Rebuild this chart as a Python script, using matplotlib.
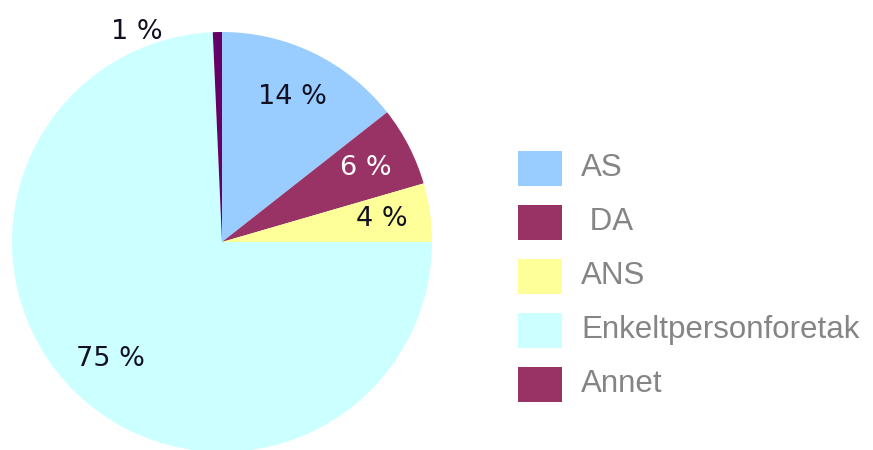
import matplotlib.pyplot as plt
import numpy as np
from matplotlib.patches import Rectangle

# shares as drawn, printed labels, legend names
names = ['AS', ' DA', 'ANS', 'Enkeltpersonforetak', 'Annet']
shares = [14.4, 6.1, 4.5, 74.3, 0.7]
pct_labels = ['14 %', '6 %', '4 %', '75 %', '1 %']
wedge_colors = ['#99ccff', '#993366', '#ffff99', '#ccffff', '#660066']
legend_colors = ['#99ccff', '#993366', '#ffff99', '#ccffff', '#993366']
text_colors = ['#111122', 'white', '#111122', '#111122', '#111122']

fig = plt.figure(figsize=(8.73, 4.5), dpi=100)
ax = fig.add_axes([0, 0, 1, 1])

cx, cy, r = 222, 208, 210
wedges, _ = ax.pie(shares, colors=wedge_colors, startangle=90, counterclock=False,
                   center=(cx, cy), radius=r, frame=True,
                   wedgeprops=dict(linewidth=0))
ax.set_xlim(0, 873)
ax.set_ylim(0, 450)
ax.set_aspect('equal')
ax.axis('off')

for w, lab, tc in zip(wedges, pct_labels, text_colors):
    mid = np.deg2rad((w.theta1 + w.theta2) / 2)
    dist = 0.77 * r
    if lab == '1 %':
        # small slice: label sits outside, up and to the left
        mid = np.deg2rad(112)
        dist = 1.08 * r
    ax.text(cx + dist * np.cos(mid), cy + dist * np.sin(mid), lab,
            ha='center', va='center', fontsize=19.5, color=tc,
            family='DejaVu Sans')

# legend
for i, (nm, col) in enumerate(zip(names, legend_colors)):
    yc = 450 - (168 + i * 54)
    ax.add_patch(Rectangle((518, yc - 17.5), 44, 35, facecolor=col, edgecolor='none'))
    ax.text(581, yc, nm, ha='left', va='center', fontsize=22.5, color='#858585',
            family='Liberation Sans')

fig.savefig('out.png', dpi=100)
